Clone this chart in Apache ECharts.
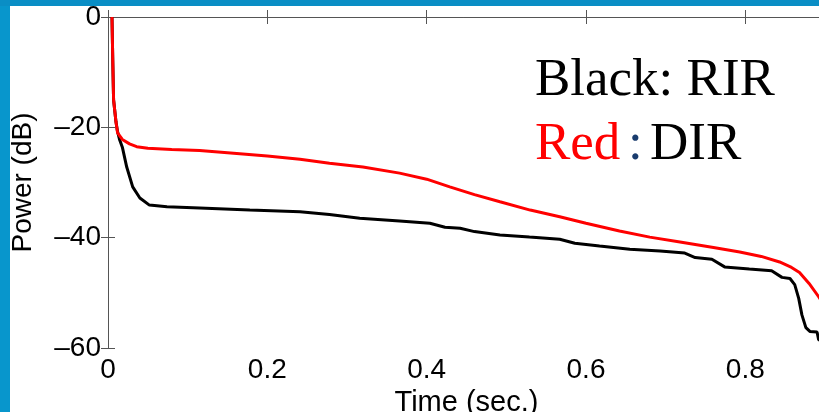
<!DOCTYPE html>
<html>
<head>
<meta charset="utf-8">
<script src="https://cdn.jsdelivr.net/npm/echarts@6/dist/echarts.min.js"></script>
<style>
html,body{margin:0;padding:0;background:#fff;}
#chart{width:819px;height:412px;}
</style>
</head>
<body>
<div id="chart"></div>
<script>
// ---- data ----
var xTicks = [0, 0.2, 0.4, 0.6, 0.8];
var yTicks = [-60, -40, -20, 0];

var timeBlack = [0.005, 0.006, 0.007, 0.010, 0.012, 0.0147, 0.018, 0.0235, 0.031, 0.040, 0.052, 0.074, 0.115, 0.178, 0.241, 0.278, 0.316, 0.366, 0.404, 0.423, 0.442, 0.460, 0.492, 0.529, 0.567, 0.586, 0.617, 0.655, 0.693, 0.724, 0.737, 0.758, 0.774, 0.805, 0.833, 0.846, 0.856, 0.862, 0.867, 0.871, 0.876, 0.881, 0.890, 0.892, 0.9];
var powerBlack = [0, -8, -15, -19, -20.8, -22.3, -23.6, -27.2, -30.8, -32.8, -34.1, -34.4, -34.6, -35.0, -35.3, -35.8, -36.5, -37.0, -37.4, -38.1, -38.3, -38.9, -39.5, -39.9, -40.3, -41.0, -41.5, -42.1, -42.4, -42.8, -43.6, -43.9, -45.3, -45.7, -46.0, -47.2, -47.4, -48.5, -51.0, -54.0, -56.3, -57.0, -57.1, -58.5, -59];

var timeRed = [0.005, 0.006, 0.007, 0.010, 0.012, 0.018, 0.027, 0.036, 0.05, 0.08, 0.115, 0.15, 0.2, 0.241, 0.278, 0.32, 0.366, 0.4, 0.429, 0.46, 0.492, 0.53, 0.567, 0.6, 0.642, 0.68, 0.718, 0.76, 0.793, 0.82, 0.843, 0.858, 0.868, 0.88, 0.892, 0.9];
var powerRed = [0, -8, -15, -19, -21, -22.2, -23, -23.5, -23.8, -24, -24.2, -24.6, -25.2, -25.8, -26.5, -27.2, -28.3, -29.4, -30.8, -32.2, -33.5, -35, -36.2, -37.4, -38.8, -39.9, -40.8, -41.8, -42.6, -43.4, -44.4, -45.4, -46.3, -48.3, -50.7, -52.5];

var xAxisTitle = 'Time (sec.)';
var yAxisTitle = 'Power (dB)';
var noteLine1 = 'Black: RIR';
var noteRed = 'Red';
var noteColon = ':';
var noteDIR = 'DIR';

function pairs(xs, ys){ return xs.map(function(x,i){ return [x, ys[i]]; }); }

var chart = echarts.init(document.getElementById('chart'), null, {renderer:'canvas'});
var axisLineStyle = {color:'#555', width:1};
var labelFont = {color:'#000', fontFamily:'Liberation Sans', fontSize:28};

var option = {
  backgroundColor:'#ffffff',
  animation:false,
  grid:{left:108, top:17, width:717, height:331, containLabel:false, outerBoundsMode:'none'},
  xAxis:[{
    type:'value', position:'bottom', min:0, max:0.9, interval:0.2,
    axisLine:{show:true, lineStyle:axisLineStyle},
    axisTick:{show:true, inside:true, length:7, lineStyle:axisLineStyle},
    splitLine:{show:false},
    axisLabel:Object.assign({margin:8, showMaxLabel:false, formatter:function(v){ return xTicks.indexOf(Math.round(v*10)/10)>=0 ? String(Math.round(v*10)/10) : ''; }}, labelFont),
    name:xAxisTitle, nameLocation:'middle', nameGap:32,
    nameTextStyle:{color:'#000', fontFamily:'Liberation Sans', fontSize:29}
  },{
    type:'value', position:'top', min:0, max:0.9, interval:0.2,
    axisLine:{show:true, lineStyle:axisLineStyle},
    axisTick:{show:true, inside:true, length:7, lineStyle:axisLineStyle},
    axisLabel:{show:false}, splitLine:{show:false}
  }],
  yAxis:[{
    type:'value', position:'left', min:-60, max:0, interval:20,
    axisLine:{show:true, lineStyle:axisLineStyle},
    axisTick:{show:true, inside:true, length:7, lineStyle:axisLineStyle},
    splitLine:{show:false},
    axisLabel:Object.assign({margin:7, formatter:function(v){ return yTicks.indexOf(v)>=0 ? String(v).replace('-', '\u2013') : ''; }}, labelFont),
    name:yAxisTitle, nameLocation:'middle', nameGap:71, nameRotate:90,
    nameTextStyle:{color:'#000', fontFamily:'Liberation Sans', fontSize:28}
  },{
    type:'value', position:'right', min:-60, max:0, interval:20,
    axisLine:{show:true, lineStyle:axisLineStyle},
    axisTick:{show:true, inside:true, length:7, lineStyle:axisLineStyle},
    axisLabel:{show:false}, splitLine:{show:false}
  }],
  series:[{
    name:'RIR', type:'line', xAxisIndex:0, yAxisIndex:0,
    data:pairs(timeBlack, powerBlack), showSymbol:false, symbol:'none',
    lineStyle:{color:'#000000', width:3}, z:2, clip:true
  },{
    name:'DIR', type:'line', xAxisIndex:0, yAxisIndex:0,
    data:pairs(timeRed, powerRed), showSymbol:false, symbol:'none',
    lineStyle:{color:'#ff0000', width:3}, z:3, clip:true
  }],
  graphic:[
    {type:'rect', shape:{x:0, y:0, width:10, height:412}, style:{fill:'#0896cc'}, z:100},
    {type:'rect', shape:{x:0, y:0, width:819, height:6}, style:{fill:'#0a8ec5'}, z:100},
    {type:'text', x:535, y:81, z:100, style:{text:noteLine1, font:'53px "Liberation Serif"', fill:'#000', textVerticalAlign:'middle', textAlign:'left'}},
    {type:'text', x:535, y:145, z:100, style:{text:noteRed, font:'53px "Liberation Serif"', fill:'#ff0000', textVerticalAlign:'middle', textAlign:'left'}},
    {type:'text', x:628, y:145, z:100, style:{text:noteColon, font:'53px "Liberation Serif"', fill:'#1a3c6e', textVerticalAlign:'middle', textAlign:'left'}},
    {type:'text', x:650, y:145, z:100, style:{text:noteDIR, font:'53px "Liberation Serif"', fill:'#000', textVerticalAlign:'middle', textAlign:'left'}}
  ]
};
chart.setOption(option);
</script>
</body>
</html>
